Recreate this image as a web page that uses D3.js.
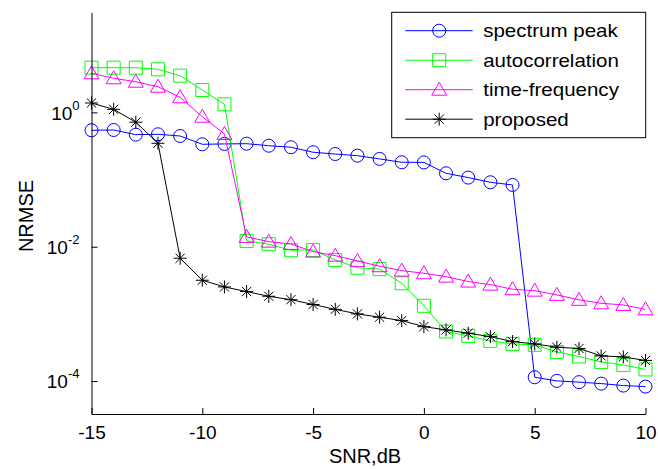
<!DOCTYPE html>
<html>
<head>
<meta charset="utf-8">
<script src="https://cdn.jsdelivr.net/npm/d3@7"></script>
<style>
    html, body { margin: 0; padding: 0; background: #fff; }
    svg { display: block; font-family: Arial, 'Liberation Sans', sans-serif; }
</style>
</head>
<body>
<div id="chart"></div>
<script>
// SNR values on the x axis (dB)
const snr = [-15, -14, -13, -12, -11, -10, -9, -8, -7, -6, -5, -4, -3, -2, -1, 0, 1, 2, 3, 4, 5, 6, 7, 8, 9, 10];

const spectrumPeak = [0.542, 0.547, 0.466, 0.472, 0.445, 0.335, 0.339, 0.342, 0.319, 0.303, 0.255, 0.240, 0.227,
    0.203, 0.181, 0.180, 0.124, 0.107, 0.0912, 0.0831, 1.14e-4, 1.007e-4, 9.64e-5, 9.18e-5, 8.57e-5, 8.28e-5];
const autocorrelation = [4.63, 4.63, 4.63, 4.38, 3.52, 2.15, 1.32, 0.0122, 0.0109, 0.00887, 0.00896, 0.00636, 0.00487,
    0.00464, 0.00286, 0.00132, 5.46e-4, 4.71e-4, 3.97e-4, 3.58e-4, 3.46e-4, 2.72e-4, 2.32e-4, 1.93e-4, 1.74e-4, 1.49e-4];
const timeFrequency = [3.82, 3.22, 2.86, 2.41, 1.68, 0.863, 0.477, 0.0140, 0.0119, 0.0110, 0.00846, 0.00736, 0.00615,
    0.00513, 0.00441, 0.00403, 0.00359, 0.00303, 0.00273, 0.00233, 0.00222, 0.00192, 0.00162, 0.00144, 0.00136, 0.00117];
const proposed = [1.38, 1.11, 0.715, 0.347, 0.00674, 0.00317, 0.00252, 0.00215, 0.00183, 0.00163, 0.00138, 0.00117, 0.00100,
    8.93e-4, 7.95e-4, 6.47e-4, 5.78e-4, 5.16e-4, 4.59e-4, 3.87e-4, 3.58e-4, 3.19e-4, 3.06e-4, 2.37e-4, 2.29e-4, 2.03e-4];

const seriesNames = ['spectrum peak', 'autocorrelation', 'time-frequency', 'proposed'];
const xTicks = [-15, -10, -5, 0, 5, 10];
const yTickExponents = [-4, -2, 0];

const width = 658,
      height = 469,
      margin = {left: 91.5, right: 12.5, top: 12.3, bottom: 55};

const series = [
    {name: seriesNames[0], values: spectrumPeak, color: '#0000ff', marker: 'circle'},
    {name: seriesNames[1], values: autocorrelation, color: '#00ff00', marker: 'square'},
    {name: seriesNames[2], values: timeFrequency, color: '#ff00ff', marker: 'triangle'},
    {name: seriesNames[3], values: proposed, color: '#000000', marker: 'star'},
];

const svg = d3.select('#chart')
    .append('svg')
    .attr('width', width)
    .attr('height', height);

const x = d3.scaleLinear()
    .domain([-15, 10])
    .range([margin.left, width - margin.right]);

const y = d3.scaleLog()
    .domain([Math.pow(10, -4.49), Math.pow(10, 1.49)])
    .range([height - margin.bottom, margin.top]);

// marker shapes, drawn around (0,0)
const markerPath = (type) => {
    if (type === 'square') return 'M-6.5,-6.5H6.5V6.5H-6.5Z';
    if (type === 'triangle') return 'M0,-7.5L7.5,5.5H-7.5Z';
    if (type === 'star') return 'M-6.5,0H6.5M0,-6.5V6.5M-4.6,-4.6L4.6,4.6M-4.6,4.6L4.6,-4.6';
    return null;
};

const drawMarker = (g, s) => {
    if (s.marker === 'circle') {
        g.append('circle')
            .attr('r', 6.5)
            .attr('fill', 'none')
            .attr('stroke', s.color)
            .attr('stroke-width', 1);
    } else {
        g.append('path')
            .attr('d', markerPath(s.marker))
            .attr('fill', 'none')
            .attr('stroke', s.color)
            .attr('stroke-width', 1);
    }
};

const line = d3.line()
    .x((d, i) => x(snr[i]))
    .y(d => y(d));

series.forEach(s => {
    svg.append('path')
        .datum(s.values)
        .attr('d', line)
        .attr('fill', 'none')
        .attr('stroke', s.color)
        .attr('stroke-width', 1);

    svg.selectAll('.mk-' + s.marker)
        .data(s.values)
        .enter()
        .append('g')
        .attr('class', 'mk-' + s.marker)
        .attr('transform', (d, i) => `translate(${x(snr[i])},${y(d)})`)
        .each(function() { drawMarker(d3.select(this), s); });
});

// axes, ticks pointing inward
const xAxis = d3.axisBottom(x)
    .tickValues(xTicks)
    .tickFormat(d => String(d))
    .tickSizeInner(-6)
    .tickSizeOuter(0)
    .tickPadding(12);

const yAxis = d3.axisLeft(y)
    .tickValues(yTickExponents.map(e => Math.pow(10, e)))
    .tickFormat('')
    .tickSizeInner(-6)
    .tickSizeOuter(0)
    .tickPadding(12);

const gx = svg.append('g')
    .attr('transform', `translate(0,${height - margin.bottom})`)
    .call(xAxis);

gx.selectAll('text')
    .attr('fill', '#000')
    .attr('font-size', '19px')
    .attr('font-family', "Arial, 'Liberation Sans', sans-serif");

const gy = svg.append('g')
    .attr('transform', `translate(${margin.left},0)`)
    .call(yAxis);

gy.selectAll('.tick text')
    .attr('fill', '#000')
    .attr('font-size', '19px')
    .attr('font-family', "Arial, 'Liberation Sans', sans-serif")
    .attr('dy', '0.35em')
    .each(function(d) {
        const t = d3.select(this);
        t.append('tspan').text('10');
        t.append('tspan')
            .attr('font-size', '13px')
            .attr('dy', '-0.75em')
            .text(String(Math.round(Math.log10(d))));
    });

svg.selectAll('.domain, .tick line')
    .attr('stroke', '#000')
    .attr('stroke-width', 1);

// axis titles
svg.append('text')
    .attr('x', 365)
    .attr('y', 463)
    .attr('text-anchor', 'middle')
    .attr('font-size', '20px')
    .attr('fill', '#000')
    .text('SNR,dB');

svg.append('text')
    .attr('transform', 'translate(33,216) rotate(-90)')
    .attr('text-anchor', 'middle')
    .attr('font-size', '20px')
    .attr('fill', '#000')
    .text('NRMSE');

// legend
const legend = svg.append('g')
    .attr('transform', 'translate(391.7,12.3)');

legend.append('rect')
    .attr('width', 254)
    .attr('height', 125.4)
    .attr('fill', '#fff')
    .attr('stroke', '#000')
    .attr('stroke-width', 1);

const rows = legend.selectAll('.legend-row')
    .data(series)
    .enter()
    .append('g')
    .attr('class', 'legend-row')
    .attr('transform', (d, i) => `translate(0,${18.4 + i * 29.5})`);

rows.append('line')
    .attr('x1', 13.5)
    .attr('x2', 81)
    .attr('stroke', d => d.color)
    .attr('stroke-width', 1);

rows.append('g')
    .attr('transform', 'translate(47.5,0)')
    .each(function(d) { drawMarker(d3.select(this), d); });

// legend text is a little wider than plain Arial in the original
rows.append('text')
    .attr('transform', 'translate(91.5,0) scale(1.14,1)')
    .attr('dy', '0.35em')
    .attr('font-size', '18px')
    .attr('fill', '#000')
    .text(d => d.name);
</script>
</body>
</html>
